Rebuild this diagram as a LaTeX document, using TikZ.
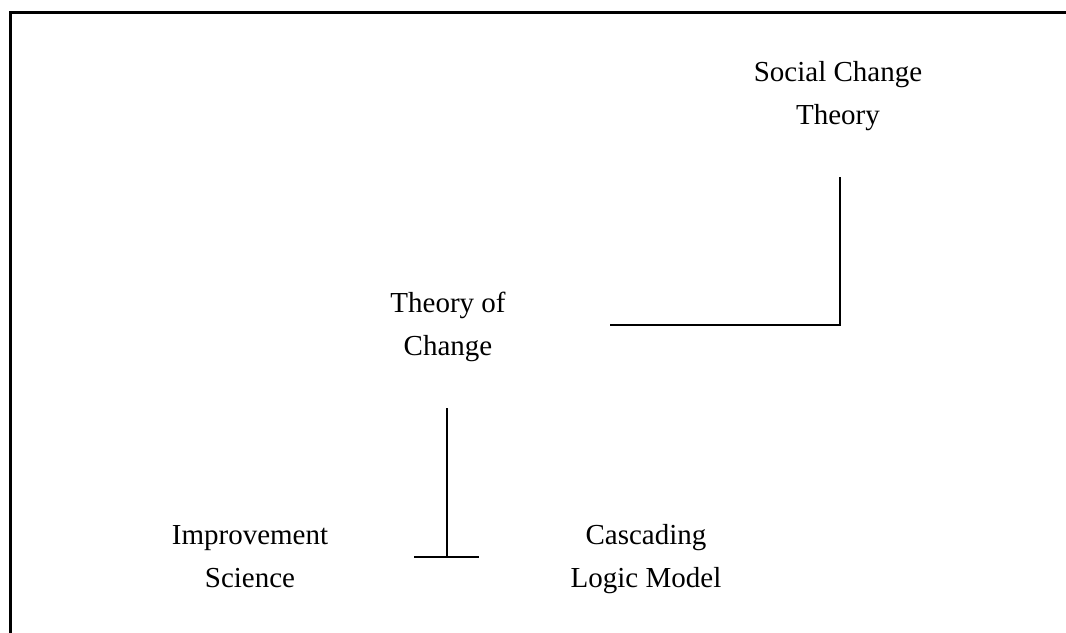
\documentclass[tikz,border=0pt]{standalone}
\usepackage{fontspec}
\setmainfont{Liberation Serif}
\begin{document}
\begin{tikzpicture}[x=0.75pt, y=-0.75pt,
  label/.style={inner sep=0pt, anchor=base, font=\fontsize{21.75pt}{32pt}\selectfont},
  frameline/.style={line width=2.6pt, line cap=rect},
  link/.style={line width=2.2pt}]
\useasboundingbox (0,0) rectangle (1066,632);
\fill[white] (0,0) rectangle (1066,632);

% frame (only its top and left sides fall on the page)
\coordinate (fTR) at (1066,12.5);
\coordinate (fTL) at (10.5,12.5);
\coordinate (fBL) at (10.5,632);
\draw[frameline] (fTR) -- (fTL) -- (fBL);

% labels
\node[label] (sc1) at (838,81) {Social Change};
\node[label] (sc2) at (838,124) {Theory};
\node[label] (toc1) at (448,312) {Theory of};
\node[label] (toc2) at (448,355) {Change};
\node[label] (is1) at (250,544) {Improvement};
\node[label] (is2) at (250,587) {Science};
\node[label] (clm1) at (646,544) {Cascading};
\node[label] (clm2) at (646,587) {Logic Model};

% elbow from social change theory to theory of change
\coordinate (scTop) at (840,177);
\coordinate (scCorner) at (840,325);
\coordinate (tocEnd) at (610,325);
\draw[link] (scTop) -- (scCorner) -- (tocEnd);

% stem below theory of change with its cross bar
\coordinate (stemTop) at (447,408);
\coordinate (stemFoot) at (447,557);
\coordinate (barL) at (414,557);
\coordinate (barR) at (479,557);
\draw[link] (stemTop) -- (stemFoot);
\draw[link] (barL) -- (barR);
\end{tikzpicture}
\end{document}
